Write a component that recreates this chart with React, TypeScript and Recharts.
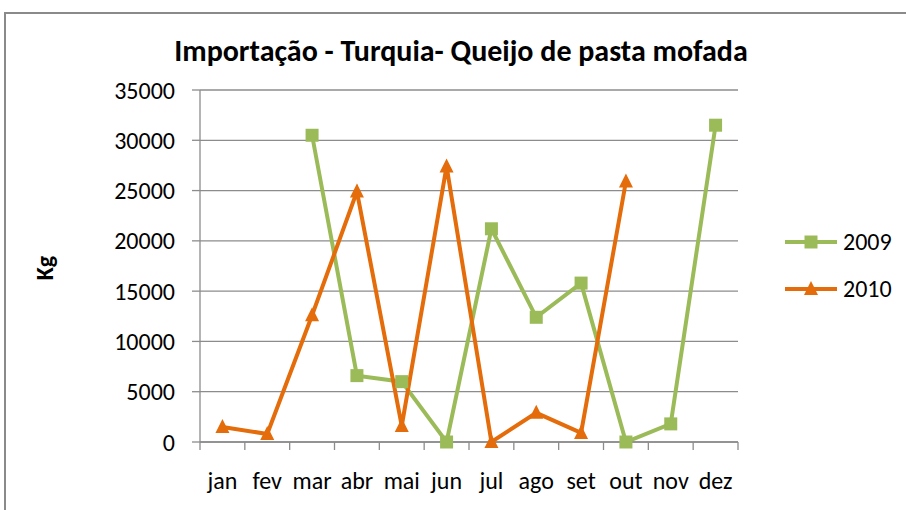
import React from 'react';
import { LineChart, Line, XAxis, YAxis, CartesianGrid } from 'recharts';

const months = ['jan', 'fev', 'mar', 'abr', 'mai', 'jun', 'jul', 'ago', 'set', 'out', 'nov', 'dez'];
const v2009: (number | null)[] = [null, null, 30500, 6600, 6000, 0, 21200, 12400, 15800, 0, 1800, 31500];
const v2010: (number | null)[] = [1500, 800, 12600, 24900, 1600, 27400, 0, 2900, 900, 25900, null, null];
const yTicks = [0, 5000, 10000, 15000, 20000, 25000, 30000, 35000];

const GREEN = '#9BBB59';
const ORANGE = '#E46C0A';
const GRID = '#8c8c8c';
const FONT = "Carlito, 'Liberation Sans Narrow', 'Open Sans', sans-serif";

const data = months.map((m, i) => ({ month: m, y2009: v2009[i], y2010: v2010[i] }));

const PLOT_W = 538;
const HALF_BAND = PLOT_W / months.length / 2;

const SquareDot = (props: any) => {
  const { cx, cy, value } = props;
  if (value == null || cx == null) return null;
  return <rect x={cx - 6.5} y={cy - 6.5} width={13} height={13} fill={GREEN} />;
};

const TriangleDot = (props: any) => {
  const { cx, cy, value } = props;
  if (value == null || cx == null) return null;
  return <path d={`M${cx},${cy - 8} L${cx + 7},${cy + 6} L${cx - 7},${cy + 6} Z`} fill={ORANGE} />;
};

const MonthTick = (props: any) => {
  const { x, y, payload, index } = props;
  return (
    <g>
      <line x1={x - HALF_BAND} x2={x - HALF_BAND} y1={y - 8} y2={y} stroke={GRID} strokeWidth={1.3} />
      {index === months.length - 1 && (
        <line x1={x + HALF_BAND} x2={x + HALF_BAND} y1={y - 8} y2={y} stroke={GRID} strokeWidth={1.3} />
      )}
      <text x={x} y={y + 39} textAnchor="middle" fontSize={24} fontFamily={FONT} fill="#000">
        {payload.value}
      </text>
    </g>
  );
};

const legendRow = (label: string, color: string, marker: React.ReactNode) => (
  <div style={{ display: 'flex', alignItems: 'center', height: 30, marginBottom: 17 }}>
    <svg width={56} height={24} style={{ display: 'block' }}>
      <line x1={4} x2={56} y1={12} y2={12} stroke={color} strokeWidth={4} />
      {marker}
    </svg>
    <span style={{ marginLeft: 6, fontFamily: FONT, fontSize: 24, lineHeight: '30px', whiteSpace: 'nowrap' }}>{label}</span>
  </div>
);

const LegendBox = () => (
  <div style={{ position: 'absolute', left: 781, top: 227 }}>
    {legendRow('2009', GREEN, <rect x={23.5} y={5.5} width={13} height={13} fill={GREEN} />)}
    {legendRow('2010', ORANGE, <path d="M30,4 L37,18 L23,18 Z" fill={ORANGE} />)}
  </div>
);

export default function App() {
  return (
    <div style={{ position: 'fixed', left: 0, top: 0, width: 906, height: 510, overflow: 'hidden', background: '#fff' }}>
      <div style={{ position: 'absolute', left: 4, top: 12, width: 1000, height: 600, border: '2px solid #8a8a8a' }} />
      <div style={{ position: 'absolute', left: 0, top: 33, width: 922, textAlign: 'center', fontFamily: FONT, fontWeight: 'bold', fontSize: 30, lineHeight: '36px' }}>
        Importação - Turquia- Queijo de pasta mofada
      </div>
      <div style={{ position: 'absolute', left: 28, top: 253, width: 34, height: 30, lineHeight: '30px', textAlign: 'center', transform: 'rotate(-90deg)', fontFamily: FONT, fontWeight: 'bold', fontSize: 24 }}>
        Kg
      </div>
      <div style={{ position: 'absolute', left: 0, top: 0 }}>
        <LineChart width={906} height={510} data={data} margin={{ top: 90, right: 168, bottom: 0, left: 100 }}>
          <CartesianGrid vertical={false} stroke={GRID} strokeWidth={1.3} />
          <XAxis
            dataKey="month"
            padding={{ left: HALF_BAND, right: HALF_BAND }}
            axisLine={{ stroke: GRID, strokeWidth: 1.3 }}
            tickLine={false}
            tick={<MonthTick />}
            interval={0}
            height={68}
          />
          <YAxis
            width={100}
            domain={[0, 35000]}
            ticks={yTicks}
            interval={0}
            axisLine={{ stroke: GRID, strokeWidth: 1.3 }}
            tickLine={{ stroke: GRID, strokeWidth: 1.3 }}
            tickSize={8}
            tickMargin={17}
            tick={{ fill: '#000', fontSize: 24, fontFamily: FONT }}
          />
          <Line dataKey="y2009" stroke={GREEN} strokeWidth={4} dot={<SquareDot />} activeDot={false} isAnimationActive={false} connectNulls={false} />
          <Line dataKey="y2010" stroke={ORANGE} strokeWidth={4} dot={<TriangleDot />} activeDot={false} isAnimationActive={false} connectNulls={false} />
        </LineChart>
      </div>
      <LegendBox />
    </div>
  );
}
